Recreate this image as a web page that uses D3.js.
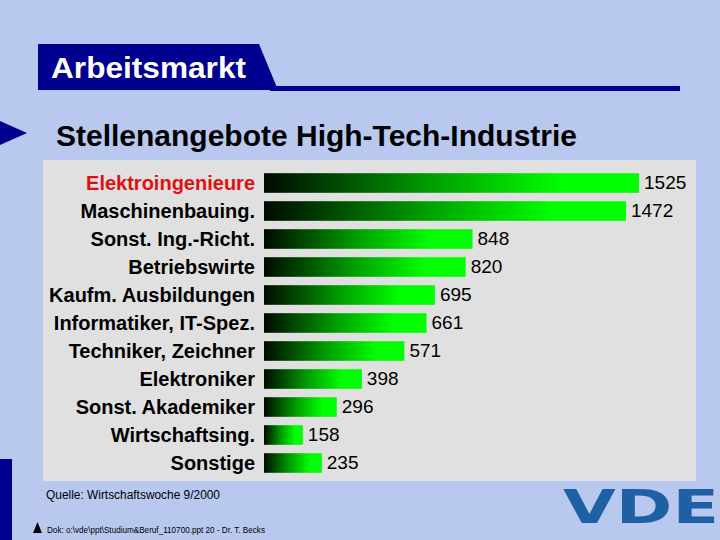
<!DOCTYPE html>
<html><head><meta charset="utf-8">
<script src="https://cdn.jsdelivr.net/npm/d3@7"></script>
<style>html,body{margin:0;padding:0;background:#B9C8EF;}svg{display:block;}</style>
</head><body>
<script>
const categories = ["Elektroingenieure","Maschinenbauing.","Sonst. Ing.-Richt.","Betriebswirte","Kaufm. Ausbildungen","Informatiker, IT-Spez.","Techniker, Zeichner","Elektroniker","Sonst. Akademiker","Wirtschaftsing.","Sonstige"];
const values = [1525,1472,848,820,695,661,571,398,296,158,235];
const highlighted = ["Elektroingenieure"];
const titleText = "Arbeitsmarkt";
const subtitleText = "Stellenangebote High-Tech-Industrie";
const sourceText = "Quelle: Wirtschaftswoche 9/2000";
const docText = "Dok: o:\\vde\\ppt\\Studium&Beruf_110700.ppt 20 - Dr. T. Becks";

const W = 720, H = 540;
const svg = d3.select("body").append("svg").attr("width", W).attr("height", H);
svg.append("rect").attr("width", W).attr("height", H).attr("fill", "#B9C8EF");

// left dark strip
svg.append("rect").attr("x", 0).attr("y", 459).attr("width", 12).attr("height", 81).attr("fill", "#000090");

// title box
svg.append("path").attr("d", "M38,44 L259,44 L278,90 L38,90 Z").attr("fill", "#000090");
svg.append("rect").attr("x", 270).attr("y", 86).attr("width", 410).attr("height", 5).attr("fill", "#000090");
svg.append("text").attr("x", 51).attr("y", 78).text(titleText)
  .attr("font-family", "Liberation Sans, Arial, sans-serif").attr("font-size", 30).attr("font-weight", "bold")
  .attr("fill", "#ffffff").attr("textLength", 195).attr("lengthAdjust", "spacingAndGlyphs");

// subtitle with arrow
svg.append("path").attr("d", "M0,121 L27,133 L0,145 Z").attr("fill", "#000090");
svg.append("text").attr("x", 56).attr("y", 146).text(subtitleText)
  .attr("font-family", "Liberation Sans, Arial, sans-serif").attr("font-size", 29).attr("font-weight", "bold")
  .attr("fill", "#000000").attr("textLength", 521).attr("lengthAdjust", "spacingAndGlyphs");

// panel
svg.append("rect").attr("x", 43).attr("y", 160).attr("width", 653).attr("height", 321).attr("fill", "#E0E0E0");

// gradient
const defs = svg.append("defs");
const grad = defs.append("linearGradient").attr("id", "barGrad").attr("x1", "0%").attr("x2", "100%").attr("y1", "0%").attr("y2", "0%");
grad.append("stop").attr("offset", "0%").attr("stop-color", "#000A00");
grad.append("stop").attr("offset", "45%").attr("stop-color", "#00A000");
grad.append("stop").attr("offset", "80%").attr("stop-color", "#00FF00");
grad.append("stop").attr("offset", "100%").attr("stop-color", "#00FF00");

const x = d3.scaleLinear().domain([0, 1525]).range([264, 639]);
const y = d3.scaleBand().domain(categories).range([169, 477]).paddingInner(0.3).paddingOuter(0.15);

const rows = svg.append("g").selectAll("g").data(categories).join("g");
rows.append("rect")
  .attr("x", x(0))
  .attr("y", d => y(d))
  .attr("width", (d, i) => x(values[i]) - x(0))
  .attr("height", y.bandwidth())
  .attr("fill", "url(#barGrad)");
rows.append("text")
  .attr("x", 255)
  .attr("y", d => y(d) + y.bandwidth() / 2)
  .attr("dy", "0.36em")
  .attr("text-anchor", "end")
  .attr("font-family", "Liberation Sans, Arial, sans-serif")
  .attr("font-size", 20).attr("font-weight", "bold")
  .attr("fill", d => highlighted.includes(d) ? "#E01010" : "#000000")
  .text(d => d);
rows.append("text")
  .attr("x", (d, i) => x(values[i]) + 5)
  .attr("y", d => y(d) + y.bandwidth() / 2)
  .attr("dy", "0.3em")
  .attr("font-family", "Liberation Sans, Arial, sans-serif")
  .attr("font-size", 19)
  .attr("fill", "#000000")
  .text((d, i) => values[i]);

// source
svg.append("text").attr("x", 46).attr("y", 499).text(sourceText)
  .attr("font-family", "Liberation Sans, Arial, sans-serif").attr("font-size", 12.5)
  .attr("fill", "#000000").attr("textLength", 174).attr("lengthAdjust", "spacingAndGlyphs");

// doc line
svg.append("path").attr("d", "M33,533 L37.5,522 L42,533 Z").attr("fill", "#000000");
svg.append("text").attr("x", 47).attr("y", 533).text(docText)
  .attr("font-family", "Liberation Sans, Arial, sans-serif").attr("font-size", 8.5)
  .attr("fill", "#000000").attr("textLength", 218).attr("lengthAdjust", "spacingAndGlyphs");

// VDE logo
svg.append("text").attr("x", 563).attr("y", 523).text("VDE")
  .attr("font-family", "DejaVu Sans, sans-serif").attr("font-size", 46).attr("font-weight", "bold")
  .attr("fill", "#1F5FA3").attr("textLength", 156).attr("lengthAdjust", "spacingAndGlyphs");
</script>
</body></html>
